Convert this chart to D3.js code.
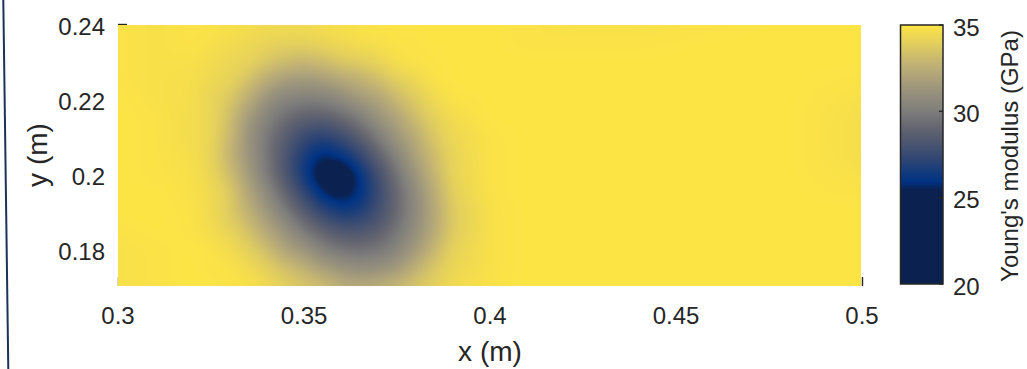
<!DOCTYPE html>
<html><head><meta charset="utf-8">
<script src="https://cdn.jsdelivr.net/npm/d3@7"></script>
<style>
html,body{margin:0;padding:0;background:#fff;overflow:hidden}
text{font-family:"Liberation Sans",Arial,Helvetica,sans-serif;fill:#262626}
</style>
</head><body>
<svg id="c" width="1027" height="369"></svg>
<script>
// ---- data ----
const xs = [0.30,0.31,0.32,0.325,0.33,0.335,0.34,0.345,0.35,0.355,0.36,0.365,0.37,0.375,0.38,0.385,0.39,0.40,0.41,0.42,0.44,0.46,0.48,0.50];
const ys = [0.24,0.235,0.23,0.225,0.22,0.215,0.21,0.205,0.20,0.195,0.19,0.185,0.18,0.175,0.17];
const modulus = [
[34.9,34.8,34.9,34.9,34.8,34.7,34.6,34.6,34.6,34.7,34.8,34.9,34.9,35.0,35.0,35.0,35.0,35.0,34.9,34.8,34.8,34.9,35.0,35.0],
[34.9,34.8,34.9,34.8,34.6,34.4,34.2,34.1,34.1,34.3,34.5,34.7,34.8,34.9,34.9,35.0,35.0,35.0,34.9,34.9,34.9,35.0,35.0,35.0],
[34.9,34.8,34.8,34.6,34.3,34.2,33.6,33.2,32.9,33.2,33.7,33.9,34.2,34.8,34.9,34.9,35.0,35.0,35.0,35.0,35.0,35.0,35.0,35.0],
[34.9,34.8,34.7,34.4,34.2,33.4,32.4,31.6,31.5,31.6,32.2,32.6,33.3,33.9,34.4,34.9,35.0,35.0,35.0,35.0,35.0,35.0,35.0,34.9],
[35.0,34.8,34.7,34.2,33.7,32.5,31.1,30.4,30.1,30.2,30.7,31.5,32.0,33.1,33.8,34.5,34.9,35.0,35.0,35.0,35.0,35.0,35.0,34.8],
[35.0,34.9,34.6,34.3,33.3,31.5,30.3,29.4,28.8,28.7,29.2,30.0,31.2,32.0,33.3,34.0,34.6,35.0,35.0,35.0,35.0,35.0,35.0,34.7],
[35.0,34.9,34.6,34.3,33.1,31.2,29.8,28.6,27.5,27.0,27.6,28.7,30.0,31.4,32.4,33.7,34.4,34.9,35.0,35.0,35.0,35.0,35.0,34.7],
[35.0,34.9,34.7,34.2,32.8,31.3,29.7,28.2,26.6,25.6,26.1,27.3,28.9,30.4,32.0,33.2,34.2,34.9,35.0,35.0,35.0,35.0,35.0,34.7],
[35.0,34.9,34.8,34.3,33.3,31.6,29.9,28.2,26.3,24.7,24.4,25.9,27.9,29.6,31.3,32.9,34.2,34.9,35.0,35.0,35.0,35.0,35.0,34.8],
[35.0,35.0,34.8,34.5,33.8,32.2,30.6,29.0,27.3,25.6,25.0,25.8,27.5,29.2,30.8,32.4,34.0,34.9,35.0,35.0,35.0,35.0,35.0,34.9],
[35.0,35.0,34.9,34.5,33.8,32.6,31.4,29.9,28.5,27.2,26.4,26.7,27.8,29.2,30.7,32.2,33.8,34.8,35.0,35.0,35.0,35.0,35.0,35.0],
[34.9,35.0,34.9,34.6,34.1,33.4,32.1,31.1,29.8,28.8,28.1,28.1,28.6,29.7,30.9,32.3,33.8,34.8,35.0,35.0,35.0,35.0,35.0,35.0],
[34.8,34.9,35.0,34.9,34.6,34.0,33.2,31.9,31.2,30.2,29.6,29.4,29.7,30.4,31.5,32.9,34.1,34.8,35.0,35.0,35.0,35.0,35.0,35.0],
[34.8,34.9,35.0,34.9,34.9,34.5,34.0,33.3,32.6,31.7,31.1,30.8,30.9,31.4,32.6,33.6,34.3,34.8,35.0,35.0,35.0,35.0,35.0,35.0],
[34.8,34.9,35.0,35.0,34.9,34.9,34.5,34.0,33.6,33.3,32.6,32.3,32.6,33.0,33.6,34.1,34.5,34.9,35.0,35.0,35.0,35.0,35.0,35.0]
];
const xTicks = [0.3,0.35,0.4,0.45,0.5];
const xTickLabels = ["0.3","0.35","0.4","0.45","0.5"];
const yTicks = [0.18,0.2,0.22,0.24];
const yTickLabels = ["0.18","0.2","0.22","0.24"];
const cbTicks = [20,25,30,35];
const cbTickLabels = ["20","25","30","35"];
const xLabel = "x (m)", yLabel = "y (m)", cbLabel = "Young's modulus (GPa)";
const xDomain = [0.3,0.5], yDomain = [0.17,0.24], cDomain = [20,35];
// colormap stops (value -> colour)
const cmapStops = [20, 25.45, 25.95, 26.5, 27.2, 28.2, 29.1, 30.0, 31.0, 32.0, 33.0, 34.0, 35.0];
const cmapColors = ["#0b2150","#0b2150","#003385","#143b7c","#2f4573","#4d5670","#656670","#7e7d7b","#958f7c","#aea37a","#c8b870","#e4d05c","#fde445"];

// ---- layout ----
const svg = d3.select("#c");
const x = d3.scaleLinear().domain(xDomain).range([118,862]);
const y = d3.scaleLinear().domain(yDomain).range([286,24]);
const cb = d3.scaleLinear().domain(cDomain).range([284,25]);
const color = d3.scaleLinear().domain(cmapStops).range(cmapColors).interpolate(d3.interpolateRgb).clamp(true);
const ink = "#262626";

// left edge line (frame remnant)
svg.append("line").attr("x1",3.3).attr("y1",0).attr("x2",8.3).attr("y2",369)
  .attr("stroke","#1b3357").attr("stroke-width",2);

// ticks (drawn beneath image, only edges peek out)
const gx = svg.append("g").attr("transform","translate(0,286)")
  .call(d3.axisTop(x).tickValues(xTicks).tickFormat("").tickSize(9).tickSizeOuter(0));
gx.select(".domain").remove();
gx.selectAll("line").attr("stroke",ink).attr("stroke-width",1.4);
const gy = svg.append("g").attr("transform","translate(118,0)")
  .call(d3.axisRight(y).tickValues(yTicks).tickFormat("").tickSize(9).tickSizeOuter(0));
gy.select(".domain").remove();
gy.selectAll("line").attr("stroke",ink).attr("stroke-width",1.4);

// ---- field image ----
function interp(xv,yv){
  let i = d3.bisectRight(xs,xv)-1; i = Math.max(0,Math.min(xs.length-2,i));
  const tx = Math.max(0,Math.min(1,(xv-xs[i])/(xs[i+1]-xs[i])));
  let j = 0; while (j < ys.length-2 && yv < ys[j+1]) j++;
  const ty = Math.max(0,Math.min(1,(ys[j]-yv)/(ys[j]-ys[j+1])));
  const a = modulus[j][i], b = modulus[j][i+1], c = modulus[j+1][i], d = modulus[j+1][i+1];
  return (a*(1-tx)+b*tx)*(1-ty)+(c*(1-tx)+d*tx)*ty;
}
const ix0 = 118, iy0 = 25, W = 743, H = 261;
let f = new Float32Array(W*H);
for (let py=0; py<H; py++){
  const yv = y.invert(iy0+py+0.5);
  for (let px=0; px<W; px++){
    f[py*W+px] = interp(x.invert(ix0+px+0.5), yv);
  }
}
function blur(src, r){
  const tmp = new Float32Array(W*H), out = new Float32Array(W*H);
  for (let py=0; py<H; py++){
    for (let px=0; px<W; px++){
      let s=0,n=0;
      for (let k=-r;k<=r;k++){ const q=Math.max(0,Math.min(W-1,px+k)); s+=src[py*W+q]; n++; }
      tmp[py*W+px]=s/n;
    }
  }
  for (let py=0; py<H; py++){
    for (let px=0; px<W; px++){
      let s=0,n=0;
      for (let k=-r;k<=r;k++){ const q=Math.max(0,Math.min(H-1,py+k)); s+=tmp[q*W+px]; n++; }
      out[py*W+px]=s/n;
    }
  }
  return out;
}
f = blur(blur(f,7),7);
const can = document.createElement("canvas"); can.width=W; can.height=H;
const ctx = can.getContext("2d"); const img = ctx.createImageData(W,H);
for (let k=0;k<W*H;k++){
  const c = d3.rgb(color(f[k]));
  img.data[4*k]=c.r; img.data[4*k+1]=c.g; img.data[4*k+2]=c.b; img.data[4*k+3]=255;
}
ctx.putImageData(img,0,0);
svg.append("image").attr("x",ix0).attr("y",iy0).attr("width",W).attr("height",H)
  .attr("preserveAspectRatio","none").attr("href",can.toDataURL());

// tick labels
svg.append("g").selectAll("text").data(xTicks).join("text")
  .attr("x",d=>x(d)).attr("y",324).attr("text-anchor","middle").attr("font-size",24)
  .text((d,i)=>xTickLabels[i]);
svg.append("g").selectAll("text").data(yTicks).join("text")
  .attr("x",105).attr("y",d=>y(d)+11).attr("text-anchor","end").attr("font-size",24)
  .text((d,i)=>yTickLabels[i]);
svg.append("text").attr("x",490).attr("y",361).attr("text-anchor","middle").attr("font-size",28).text(xLabel);
svg.append("text").attr("transform","translate(46.5,155) rotate(-90)").attr("text-anchor","middle").attr("font-size",28).text(yLabel);

// ---- colorbar ----
const cbX = 900.5, cbW = 42.5;
const cH = 259;
const cc = document.createElement("canvas"); cc.width=1; cc.height=cH;
const cctx = cc.getContext("2d"); const cimg = cctx.createImageData(1,cH);
for (let k=0;k<cH;k++){
  const c = d3.rgb(color(cb.invert(25+k+0.5)));
  cimg.data[4*k]=c.r; cimg.data[4*k+1]=c.g; cimg.data[4*k+2]=c.b; cimg.data[4*k+3]=255;
}
cctx.putImageData(cimg,0,0);
svg.append("image").attr("x",cbX).attr("y",25).attr("width",cbW).attr("height",cH)
  .attr("preserveAspectRatio","none").attr("href",cc.toDataURL());
svg.append("rect").attr("x",cbX).attr("y",25).attr("width",cbW).attr("height",cH)
  .attr("fill","none").attr("stroke",ink).attr("stroke-width",1.5);
svg.append("g").selectAll("line").data(cbTicks).join("line")
  .attr("x1",cbX+cbW).attr("x2",cbX+cbW-4).attr("y1",d=>cb(d)).attr("y2",d=>cb(d))
  .attr("stroke",ink).attr("stroke-width",1.4);
svg.append("g").selectAll("text").data(cbTicks).join("text")
  .attr("x",953).attr("y",d=>cb(d)+10.5).attr("font-size",24)
  .text((d,i)=>cbTickLabels[i]);
svg.append("text").attr("transform","translate(1018,156) rotate(-90)").attr("text-anchor","middle")
  .attr("font-size",24).text(cbLabel);
</script>
</body></html>
